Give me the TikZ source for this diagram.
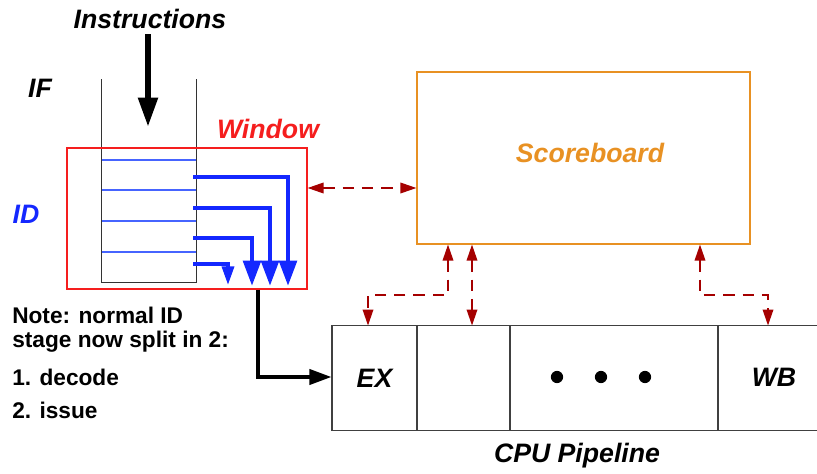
\documentclass[tikz,border=0pt]{standalone}
\usepackage{fontspec}
\setmainfont{Liberation Sans}
\usetikzlibrary{arrows.meta,positioning}
\definecolor{winred}{RGB}{245,30,30}
\definecolor{sborange}{RGB}{232,145,35}
\definecolor{linkred}{RGB}{165,0,0}
\definecolor{idblue}{RGB}{20,40,255}
\definecolor{slotblue}{RGB}{70,100,255}

\begin{document}
\begin{tikzpicture}[
  x=0.75pt, y=-0.75pt,
  title/.style={font=\fontsize{20}{22}\selectfont\bfseries\itshape, inner sep=0pt},
  note/.style={font=\fontsize{17}{19}\selectfont\bfseries, inner sep=0pt, anchor=west},
  window/.style={draw=winred, line width=0.9pt, minimum width=180pt, minimum height=105.75pt},
  board/.style={draw=sborange, line width=0.9pt, minimum width=249.75pt, minimum height=129pt},
  cell/.style={draw=black!75, line width=0.9pt, minimum height=78.75pt, inner sep=0pt, outer sep=0pt},
  feed/.style={line width=4.5pt, -{Triangle[length=22pt,width=14pt]}},
  issue/.style={idblue, line width=3.4pt, -{Triangle[length=19pt,width=13pt]}},
  link/.style={linkred, line width=1pt, dash pattern=on 8.5pt off 6pt,
    {Triangle[length=12pt,width=8pt]}-{Triangle[length=12pt,width=8pt]}}
]
\useasboundingbox (0,0) rectangle (817,474);

% instruction queue
\node[title] (instr) at (150,19) {Instructions};
\node[title] (if) at (40,88) {IF};
\node[title, text=idblue] (id) at (26,214) {ID};
\node[minimum width=70.5pt, minimum height=152.25pt, inner sep=0pt] (queue) at (149,181) {};
\draw[black!80, line width=0.9pt] (queue.north west) -- (queue.south west) -- (queue.south east) -- (queue.north east);
\foreach \y in {160,190,221,252}
  \draw[slotblue, line width=1.1pt] (queue.west |- 0,\y) -- (queue.east |- 0,\y);
\coordinate (qin) at (148,127);
\draw[feed] ([yshift=-4pt]instr.south -| qin) -- (qin);

% window
\node[window] (win) at (187,218.5) {};
\node[title, text=winred] (wlabel) at (268,129) {Window};
\foreach \y/\x in {177/288, 208/270, 238/252}
  \draw[issue] (193,\y) -| (\x,286);
\draw[idblue, line width=2.6pt, -{Triangle[length=14pt,width=9pt]}] (193,264) -| (228,285);

% scoreboard
\node[board] (sb) at (583.5,158) {};
\node[title, text=sborange] (sblabel) at (590,153) {Scoreboard};
\draw[link] (win.east |- 0,188) -- (sb.west |- 0,188);

% pipeline
\node[cell, minimum width=63.75pt] (ex) at (374.5,378) {\fontsize{20}{22}\selectfont\bfseries\itshape EX};
\node[cell, minimum width=69.75pt, right=0pt of ex] (c2) {};
\node[cell, minimum width=156pt, right=0pt of c2] (c3) {};
\node[cell, minimum width=90pt, right=0pt of c3] (wb) {};
\node[title] (wblabel) at (774,377) {WB};
\foreach \x in {557,601,645}
  \fill (\x,377) circle (4.6pt);
\node[title] (cpu) at (577,456) {CPU Pipeline};

% scoreboard <-> pipeline
\coordinate (s1) at (448,295);
\coordinate (s3) at (700,295);
\draw[link] (sb.south -| s1) -- (s1) -| (ex.north -| 368,0);
\draw[link] (sb.south -| 472,0) -- (c2.north -| 472,0);
\draw[link] (sb.south -| s3) -- (s3) -| (wb.north -| 768,0);

% issue to EX
\coordinate (turn) at (258,377);
\draw[feed, line width=3.6pt, -{Triangle[length=17pt,width=11pt]}] (win.south -| turn) -- (turn) -- (ex.west |- turn);

% note
\node[note] (n1) at (12,315) {Note: normal ID};
\node[note] (n2) at (12,342) {stage now split in 2:};
\node[note] (n3) at (12,377) {1. decode};
\node[note] (n4) at (12,410) {2. issue};
\end{tikzpicture}
\end{document}
